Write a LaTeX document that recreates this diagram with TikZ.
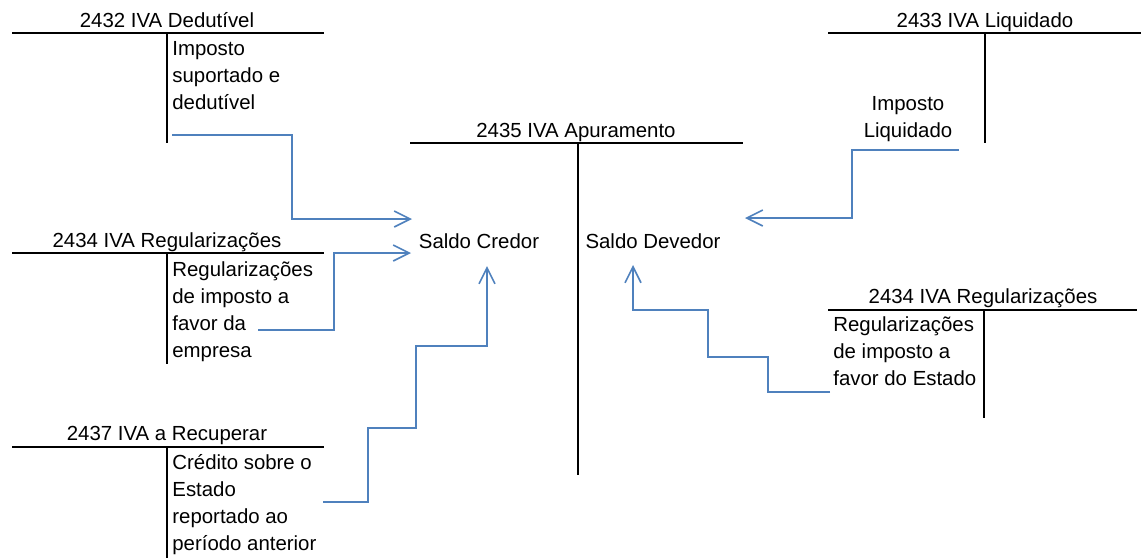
\documentclass[tikz,border=0pt]{standalone}
\usepackage{fontspec}
\setmainfont{Liberation Sans}
\usetikzlibrary{arrows.meta,positioning}
\definecolor{flowblue}{RGB}{79,129,189}

\begin{document}
\begin{tikzpicture}[
    x=0.5pt, y=-0.5pt,
    every node/.style={font=\fontsize{10.2}{13.5}\selectfont, inner sep=0pt},
    title/.style={anchor=base},
    entry/.style={anchor=base west, align=left},
    tline/.style={line width=1pt, black},
    flow/.style={line width=0.8pt, flowblue, -{Straight Barb[length=8pt,width=8pt]}}
]
\useasboundingbox (0,0) rectangle (1148,558);

% Accounts (entries are placed by the baseline of their last line)
\node[title] (t2432) at (167,27) {2432 IVA Dedutível};
\node[entry] (e2432) at (172,109) {Imposto\\suportado e\\dedutível};
\draw[tline] (12,33) -- (324,33) (167,33) -- (167,143);

\node[title] (t2434a) at (167,247) {2434 IVA Regularizações};
\node[entry] (e2434a) at (172,357) {Regularizações\\de imposto a\\favor da\\empresa};
\draw[tline] (12,253) -- (324,253) (167,253) -- (167,364);

\node[title] (t2437) at (167,440) {2437 IVA a Recuperar};
\node[entry] (e2437) at (172,550) {Crédito sobre o\\Estado\\reportado ao\\período anterior};
\draw[tline] (12,447) -- (324,447) (167,447) -- (167,558);

\node[title] (t2435) at (576,137) {2435 IVA Apuramento};
\node[title] (credor) at (479,248) {Saldo Credor};
\node[title] (devedor) at (653,248) {Saldo Devedor};
\draw[tline] (410,143) -- (743,143) (578,143) -- (578,475);

\node[title] (t2433) at (985,27) {2433 IVA Liquidado};
\node[entry, align=center, anchor=base] (e2433) at (908,137) {Imposto\\Liquidado};
\draw[tline] (828,33) -- (1141,33) (985,33) -- (985,143);

\node[title] (t2434b) at (983,303) {2434 IVA Regularizações};
\node[entry] (e2434b) at (833,385) {Regularizações\\de imposto a\\favor do Estado};
\draw[tline] (828,310) -- (1137,310) (984,310) -- (984,418);

% Arrow ends
\coordinate (s1) at (172,135);
\coordinate (e1) at (412,219);
\coordinate (s2) at (258,330);
\coordinate (e2) at (411,253);
\coordinate (s3) at (323,502);
\coordinate (e3) at (487,266);
\coordinate (s4) at (959,150);
\coordinate (e4) at (745,218);
\coordinate (s5) at (830,392);
\coordinate (e5) at (633,265);

% Arrows
\draw[flow] (s1) -- (292,135) |- (e1);
\draw[flow] (s2) -- (334,330) |- (e2);
\draw[flow] (s3) -- (368,502) -- (368,428) -- (416,428) -- (416,346) -- (487,346) -- (e3);
\draw[flow] (s4) -- (852,150) |- (e4);
\draw[flow] (s5) -- (768,392) -- (768,357) -- (708,357) -- (708,310) -- (633,310) -- (e5);

\end{tikzpicture}
\end{document}
